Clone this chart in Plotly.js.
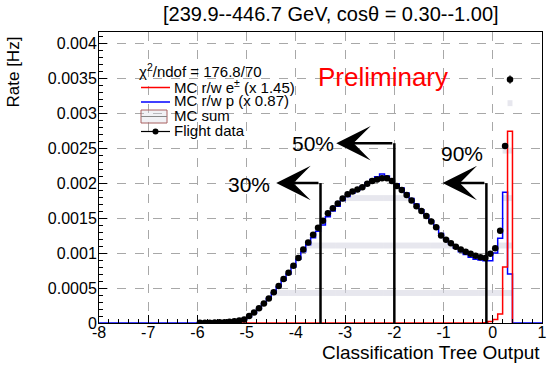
<!DOCTYPE html>
<html>
<head>
<meta charset="utf-8">
<script src="https://cdn.plot.ly/plotly-3.0.1.min.js"></script>
<style>html,body{margin:0;padding:0;background:#fff;}#chart{width:547px;height:369px;}</style>
</head>
<body>
<div id="chart"></div>
<script>
// ---------------- data ----------------
const BIN_LO = -6.0;      // first data/blue bin lower edge
const BIN_W = 0.1;
const RED_LO = -5.3;      // first red bin lower edge

// Flight data rate per bin (centres -5.95 ... 0.35)
const flightRate = [
  0.000003,0.000004,0.000005,0.000007,0.000009,0.000012,0.000017,0.000024,0.000035,0.00005,
  0.0001,0.00015,0.00021,0.00028,0.00035,0.00044,0.00053,0.00063,0.00072,0.00082,
  0.00093,0.00105,0.00115,0.00126,0.00136,0.00146,0.00157,0.00164,0.00171,0.00178,
  0.00184,0.00188,0.00191,0.00194,0.00199,0.00203,0.00205,0.00207,0.00207,0.00203,
  0.00196,0.0019,0.00183,0.00175,0.00167,0.0016,0.00153,0.00145,0.00137,0.00125,
  0.00119,0.00114,0.00109,0.00105,0.00102,0.00099,0.00096,0.00094,0.00093,0.00099,
  0.00107,0.00132,0.00253,0.00348
];
const flightErr = [
  0,0,0,0,0,0,0,0,0,0, 0,0,0,0,0,0,0,0,0,0, 0,0,0,0,0,0,0,0,0,0,
  0,0,0,0,0,0,0,0,0,0, 0,0,0,0,0,0,0,0,0,0, 0,0,0,0,0,0,0,0,0,0,
  0,0,0.00004,0.00006
];
// MC r/w p (x 0.87)
const mcProton = [
  0.000002,0.000003,0.000005,0.000006,0.000009,0.000012,0.000017,0.000025,0.000036,0.00005,
  0.00009,0.00014,0.0002,0.00027,0.00035,0.00043,0.00052,0.00061,0.0007,0.0008,
  0.00091,0.00102,0.00112,0.00122,0.00131,0.0014,0.00152,0.0016,0.00167,0.00175,
  0.00181,0.00186,0.0019,0.00195,0.002,0.00205,0.00209,0.00213,0.0021,0.00205,
  0.00199,0.00193,0.00186,0.00178,0.0017,0.00162,0.00154,0.00146,0.00138,0.00128,
  0.0012,0.00113,0.00107,0.00102,0.00098,0.00094,0.00091,0.0009,0.00089,0.00089,
  0.001,0.00121,0.00187,0.0007
];
// MC r/w e+- (x 1.45), bins from -5.3 to 0.4
const mcElectron = [
  0,0,0,0,0,0,0,0,0,0, 0,0,0,0,0,0,0,0,0,0, 0,0,0,0,0,0,0,0,0,0,
  0,0,0,0,0,0,0,0,0,0, 0,0,0,0,0,0,0,0,0,0, 0,
  0.000005,0.00002,0.00005,0.00013,0.0008,0.00274
];

// efficiency cuts
const cutLabels = ['30%', '50%', '90%'];
const cutX      = [-3.5, -2.0, -0.13];
const cutLevel  = [0.002, 0.00257, 0.002];
const cutTip    = [-4.4, -3.18, -1.02];
const cutTextX  = [-4.96, -3.66, -0.63];
const cutTextY  = [0.00198, 0.00256, 0.00242];

const xTickVals = [-8, -7, -6, -5, -4, -3, -2, -1, 0, 1];
const xTickText = ['-8', '-7', '-6', '-5', '-4', '-3', '-2', '-1', '0', '1'];
const yTickVals = [0, 0.0005, 0.001, 0.0015, 0.002, 0.0025, 0.003, 0.0035, 0.004];
const yTickText = ['0', '0.0005', '0.001', '0.0015', '0.002', '0.0025', '0.003', '0.0035', '0.004'];

const chartTitle = '[239.9--446.7 GeV, cosθ = 0.30--1.00]';
const legendHeader = 'χ<sup>2</sup>/ndof = 176.8/70';
const legendLabels = ['MC r/w e<sup>±</sup> (x 1.45)', 'MC r/w p (x 0.87)', 'MC sum', 'Flight data'];

// ---------------- helpers ----------------
const W = 547, H = 369, ML = 99, MR = 5, MT = 32, MB = 46;
const PW = W - ML - MR, PH = H - MT - MB;
const px = X => (X - ML) / PW;
const py = Y => (H - MB - Y) / PH;

function centres(lo, w, n) { const c = []; for (let i = 0; i < n; i++) c.push(+(lo + (i + 0.5) * w).toFixed(4)); return c; }
function steps(lo, w, vals, xmin, xmax) {
  const xs = [xmin], ys = [0];
  vals.forEach((v, i) => { xs.push(+(lo + i * w).toFixed(4)); ys.push(v); });
  xs.push(+(lo + vals.length * w).toFixed(4)); ys.push(0);
  if (xmax > xs[xs.length - 1]) { xs.push(xmax); ys.push(0); }
  return { xs, ys };
}

// MC sum = proton + electron components on the common binning
const redOffset = Math.round((RED_LO - BIN_LO) / BIN_W);
const mcSum = mcProton.map((v, i) => v + (i >= redOffset ? mcElectron[i - redOffset] : 0));

const blue = steps(BIN_LO, BIN_W, mcProton, -8, 1);
const red = steps(RED_LO, BIN_W, mcElectron, RED_LO, RED_LO + mcElectron.length * BIN_W);
const sum = steps(BIN_LO, BIN_W, mcSum, BIN_LO, BIN_LO + mcSum.length * BIN_W);

const FONT = 'Liberation Sans, Arial, Helvetica, sans-serif';

const traces = [
  { type: 'scatter', mode: 'lines', name: legendLabels[2], x: sum.xs, y: sum.ys, fill: 'tozeroy',
    line: { shape: 'hv', width: 0, color: 'rgba(0,0,0,0)' }, fillcolor: 'rgba(0,0,0,0)',
    fillpattern: { shape: '-', size: 47.45, solidity: 0.13, fgcolor: '#d4d4e0', fgopacity: 0.55, bgcolor: 'rgba(0,0,0,0)' },
    showlegend: false, hoverinfo: 'skip' },
  { type: 'scatter', mode: 'lines', name: legendLabels[1], x: blue.xs, y: blue.ys,
    line: { shape: 'hv', color: '#0000ff', width: 1.5 }, showlegend: false, hoverinfo: 'skip' },
  { type: 'scatter', mode: 'lines', name: legendLabels[0], x: red.xs, y: red.ys,
    line: { shape: 'hv', color: '#ff0000', width: 1.5 }, showlegend: false, hoverinfo: 'skip' },
  { type: 'scatter', mode: 'markers', name: legendLabels[3], x: centres(BIN_LO, BIN_W, flightRate.length), y: flightRate,
    marker: { color: '#000', size: 6.5 },
    error_y: { type: 'data', array: flightErr, visible: true, color: '#000', thickness: 1, width: 0 },
    showlegend: false, hoverinfo: 'skip' }
];

const shapes = [];
const annotations = [];

// title
annotations.push({ xref: 'paper', yref: 'paper', x: px(331), y: py(14), text: chartTitle, showarrow: false,
  xanchor: 'center', yanchor: 'middle', font: { family: FONT, size: 20, color: '#000' } });

// cut lines + arrows + labels
cutLabels.forEach((lab, i) => {
  shapes.push({ type: 'line', xref: 'x', yref: 'y', x0: cutX[i], x1: cutX[i], y0: 0, y1: cutLevel[i],
    line: { color: '#000', width: 2.5 } });
  annotations.push({ xref: 'x', yref: 'y', x: cutTip[i], y: cutLevel[i], axref: 'x', ayref: 'y',
    ax: cutX[i] + 0.02, ay: cutLevel[i], text: ' ', showarrow: true, arrowhead: 3, arrowsize: 2.3,
    arrowwidth: 2.5, arrowcolor: '#000', standoff: 0, startstandoff: 0 });
  annotations.push({ xref: 'x', yref: 'y', x: cutTextX[i], y: cutTextY[i], text: lab, showarrow: false,
    xanchor: 'center', yanchor: 'middle', font: { family: FONT, size: 21, color: '#000' } });
});

// Preliminary
annotations.push({ xref: 'x', yref: 'y', x: -2.24, y: 0.00351, text: 'Preliminary', showarrow: false,
  xanchor: 'center', yanchor: 'middle', font: { family: FONT, size: 26, color: '#ff0000' } });

// axis titles (ROOT style: right/top aligned)
annotations.push({ xref: 'paper', yref: 'paper', x: 1, y: py(352), text: 'Classification Tree Output',
  showarrow: false, xanchor: 'right', yanchor: 'middle', font: { family: FONT, size: 19, color: '#000' } });
annotations.push({ xref: 'paper', yref: 'paper', x: px(13), y: py(35), text: 'Rate [Hz]', textangle: -90,
  showarrow: false, xanchor: 'center', yanchor: 'top', font: { family: FONT, size: 17, color: '#000' } });

// legend (ROOT TLegend look)
const LX0 = 141, LX1 = 170, LTX = 172;
const rowY = [86.5, 101, 116, 130.5];
annotations.push({ xref: 'paper', yref: 'paper', x: px(137), y: py(70), text: legendHeader, showarrow: false,
  xanchor: 'left', yanchor: 'middle', font: { family: FONT, size: 15, color: '#000' } });
legendLabels.forEach((lab, i) => {
  annotations.push({ xref: 'paper', yref: 'paper', x: px(LTX), y: py(rowY[i] - 0.5), text: lab, showarrow: false,
    xanchor: 'left', yanchor: 'middle', font: { family: FONT, size: 15, color: '#000' } });
});
shapes.push({ type: 'line', xref: 'paper', yref: 'paper', x0: px(LX0), x1: px(LX1), y0: py(rowY[0] + 1), y1: py(rowY[0] + 1),
  line: { color: '#ff0000', width: 1.5 } });
shapes.push({ type: 'line', xref: 'paper', yref: 'paper', x0: px(LX0), x1: px(LX1), y0: py(rowY[1] + 1), y1: py(rowY[1] + 1),
  line: { color: '#0000ff', width: 1.5 } });
shapes.push({ type: 'rect', xref: 'paper', yref: 'paper', x0: px(LX0), x1: px(LX1 - 3), y0: py(rowY[2] + 7), y1: py(rowY[2] - 6),
  line: { color: '#a86060', width: 1 }, fillcolor: 'rgba(215,215,225,0.35)' });
shapes.push({ type: 'line', xref: 'paper', yref: 'paper', x0: px(LX0), x1: px(LX1 - 3), y0: py(rowY[2] + 0.5), y1: py(rowY[2] + 0.5),
  line: { color: '#888', width: 1 } });
shapes.push({ type: 'line', xref: 'paper', yref: 'paper', x0: px(LX0), x1: px(LX1), y0: py(rowY[3] + 1), y1: py(rowY[3] + 1),
  line: { color: '#000', width: 1.2 } });
shapes.push({ type: 'circle', xref: 'paper', yref: 'paper', xsizemode: 'pixel', ysizemode: 'pixel',
  xanchor: px((LX0 + LX1) / 2), yanchor: py(rowY[3] + 1), x0: -3, x1: 3, y0: -3, y1: 3,
  line: { color: '#000', width: 0 }, fillcolor: '#000' });

const axisCommon = {
  showline: true, linecolor: '#000', linewidth: 1, mirror: true,
  ticks: 'inside', ticklen: 8, tickwidth: 1, tickcolor: '#000',
  showgrid: true, gridcolor: '#a8a8a8', griddash: 'dash', gridwidth: 1,
  zeroline: false, tickfont: { family: FONT, size: 16, color: '#000' }
};

const layout = {
  width: W, height: H,
  margin: { l: ML, r: MR, t: MT, b: MB, pad: 0 },
  paper_bgcolor: '#fff', plot_bgcolor: '#fff',
  font: { family: FONT, color: '#000' },
  showlegend: false,
  xaxis: Object.assign({}, axisCommon, {
    range: [-8, 1], tickmode: 'array', tickvals: xTickVals, ticktext: xTickText, ticklabelstandoff: -5,
    minor: { dtick: 0.2, tick0: -8, ticks: 'inside', ticklen: 4, tickcolor: '#000', showgrid: false }
  }),
  yaxis: Object.assign({}, axisCommon, {
    range: [0, 0.00416], tickmode: 'array', tickvals: yTickVals, ticktext: yTickText, ticklabelstandoff: -2,
    minor: { dtick: 0.0001, tick0: 0, ticks: 'inside', ticklen: 4, tickcolor: '#000', showgrid: false }
  }),
  shapes: shapes,
  annotations: annotations
};

Plotly.newPlot('chart', traces, layout, { displayModeBar: false, staticPlot: true });
</script>
</body>
</html>
